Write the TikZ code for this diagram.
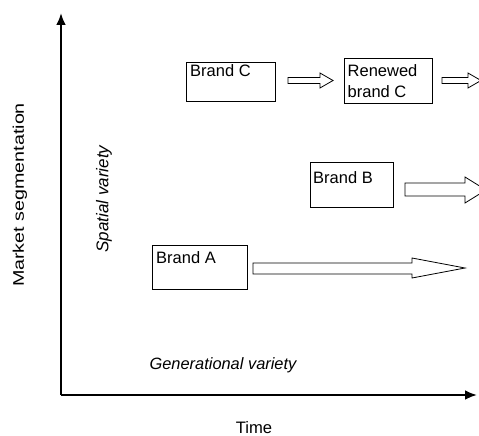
\documentclass[tikz,border=0pt]{standalone}
\usepackage{fontspec}
\setmainfont{Liberation Sans}
\usetikzlibrary{arrows.meta}
\begin{document}
\begin{tikzpicture}[x=1pt,y=-1pt,
  axis/.style={line width=2.6pt,-{Latex[length=12pt,width=10pt]}},
  brandbox/.style={draw,line width=0.9pt},
  blk/.style={draw,line width=0.8pt,fill=white,line join=miter},
  lbl/.style={inner sep=0pt,anchor=base west,font=\fontsize{16.5}{18}\selectfont}]
\useasboundingbox (0,0) rectangle (479,436);
\clip (0,0) rectangle (479,436);
% axes
\coordinate (O) at (61,395);
\coordinate (ytip) at (61,13);
\coordinate (xtip) at (477,395);
\draw[axis] (O) -- (ytip);
\draw[axis] (O) -- (xtip);
% axis labels
\node[rotate=90,inner sep=0pt,font=\fontsize{19.7}{21}\selectfont] (ylab) at (20,195) {\scalebox{1}[0.78]{Market segmentation}};
\node[inner sep=0pt,font=\fontsize{16.6}{18}\selectfont] (xlab) at (254,428) {Time};
\node[rotate=90,inner sep=0pt,font=\fontsize{17}{19}\selectfont\itshape] (spat) at (104,199) {Spatial variety};
\node[inner sep=0pt,font=\fontsize{16.4}{18}\selectfont\itshape] (gen) at (223,365) {Generational variety};
% boxes
\draw[brandbox] (186,62.5) rectangle (275,101.5);
\node[lbl] (bc) at (190,77) {Brand C};
\draw[brandbox] (344,58) rectangle (432,103);
\node[lbl] (rc1) at (347.5,77) {Renewed};
\node[lbl] (rc2) at (347.5,97) {brand C};
\draw[brandbox] (310,162) rectangle (393,207);
\node[lbl] (bb) at (313,183) {Brand B};
\draw[brandbox] (152,245) rectangle (247,289);
\node[lbl] (ba) at (156,263.5) {Brand A};
% block arrows
\draw[blk] (288,77.5) -- (320,77.5) -- (320,73) -- (333,80.5) -- (320,88) -- (320,83.5) -- (288,83.5) -- cycle;
\draw[blk] (442,77.5) -- (468,77.5) -- (468,73) -- (481,80.5) -- (468,88) -- (468,83.5) -- (442,83.5) -- cycle;
\draw[blk] (405,183) -- (465,183) -- (465,177) -- (486,190) -- (465,203) -- (465,196) -- (405,196) -- cycle;
\draw[blk] (253,263) -- (412,263) -- (412,258) -- (465,268) -- (412,278) -- (412,274) -- (253,274) -- cycle;
\end{tikzpicture}
\end{document}
